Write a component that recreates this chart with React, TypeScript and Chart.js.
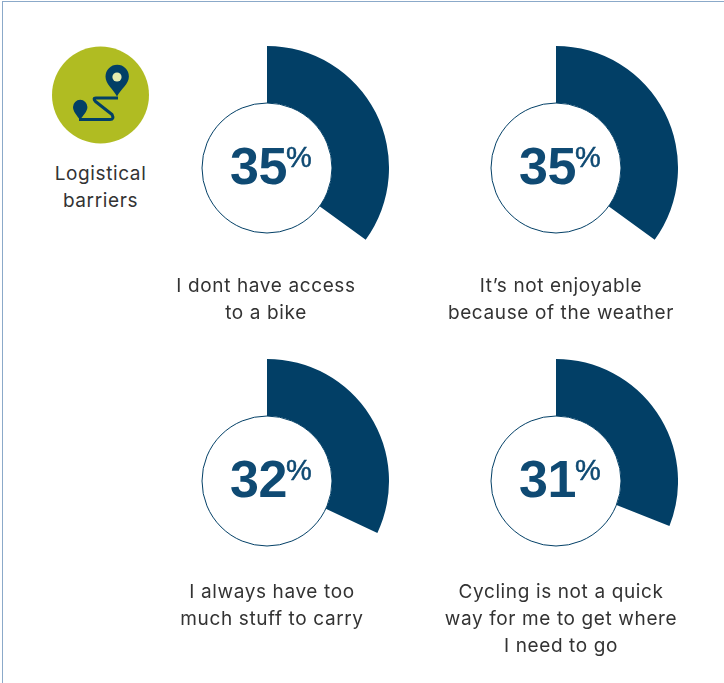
import React, { useEffect, useRef } from "react";
import { Chart, registerables } from "chart.js";

Chart.register(...registerables);

const shares = [35, 35, 32, 31];
const captions = [
  ["I dont have access", "to a bike"],
  ["It\u2019s not enjoyable", "because of the weather"],
  ["I always have too", "much stuff to carry"],
  ["Cycling is not a quick", "way for me to get where", "I need to go"],
];
const centersX = [267, 556, 267, 556];
const centersY = [168, 168, 481, 481];
const captionCentersX = [266, 561, 272, 561];
const captionTops = [272, 272, 578, 578];
const groupTitle = ["Logistical", "barriers"];

const NAVY = "#023f66";
const OUTER = 122;
const INNER = 65;

// White disc with a thin navy outline, sitting in the hole of the ring.
const innerDisc = {
  id: "innerDisc",
  afterDatasetsDraw(chart: any) {
    const arc = chart.getDatasetMeta(0).data[0];
    const { ctx } = chart;
    ctx.save();
    ctx.beginPath();
    ctx.arc(arc.x, arc.y, arc.innerRadius, 0, Math.PI * 2);
    ctx.fillStyle = "#ffffff";
    ctx.fill();
    ctx.lineWidth = 1;
    ctx.strokeStyle = NAVY;
    ctx.stroke();
    ctx.restore();
  },
};

function Ring({ value, cx, cy }: { value: number; cx: number; cy: number }) {
  const ref = useRef<HTMLCanvasElement>(null);
  useEffect(() => {
    const chart = new Chart(ref.current!, {
      type: "doughnut",
      data: {
        datasets: [
          {
            data: [value, 100 - value],
            backgroundColor: [NAVY, "rgba(0,0,0,0)"],
            borderWidth: 0,
          },
        ],
      },
      options: {
        animation: false,
        responsive: false,
        cutout: (INNER / OUTER) * 100 + "%",
        layout: { padding: 0 },
        plugins: { legend: { display: false }, tooltip: { enabled: false } },
      },
      plugins: [innerDisc],
    });
    return () => chart.destroy();
  }, [value]);
  return (
    <canvas
      ref={ref}
      width={OUTER * 2}
      height={OUTER * 2}
      style={{ position: "absolute", left: cx - OUTER, top: cy - OUTER, width: OUTER * 2, height: OUTER * 2 }}
    />
  );
}

const labelFont = "Inter, sans-serif";

function Lines({ lines, cx, top }: { lines: string[]; cx: number; top: number }) {
  return (
    <>
      {lines.map((t, i) => (
        <div
          key={t}
          style={{
            position: "absolute",
            left: cx - 160,
            width: 320,
            top: top + i * 27,
            height: 27,
            lineHeight: "27px",
            textAlign: "center",
            fontFamily: labelFont,
            fontSize: 19,
            letterSpacing: 0.62,
            color: "#333333",
            whiteSpace: "nowrap",
          }}
        >
          {t}
        </div>
      ))}
    </>
  );
}

function Figure({ value, cx, cy }: { value: number; cx: number; cy: number }) {
  return (
    <div
      style={{
        position: "absolute",
        left: cx - 37,
        top: cy - 32,
        fontFamily: "'Liberation Sans', Arial, sans-serif",
        color: "#0f4a73",
        whiteSpace: "nowrap",
        lineHeight: "60px",
        height: 60,
      }}
    >
      <span style={{ fontSize: 52, fontWeight: 700, letterSpacing: -0.5 }}>{value}</span>
      <span style={{ position: "absolute", left: 56, top: -9, fontSize: 29, fontWeight: 400, WebkitTextStroke: "0.5px #0f4a73" }}>%</span>
    </div>
  );
}

function RouteIcon() {
  return (
    <svg width={100} height={100} viewBox="0 0 100 100" style={{ position: "absolute", left: 50, top: 45 }}>
      <circle cx={50.5} cy={50} r={48.5} fill="#b0bc22" />
      <path
        d="M68 53 L46 53 Q42.500 53 45.500 56.500 L62 69.500 Q64.500 74.500 60 74.500 L29 74.500"
        fill="none"
        stroke={NAVY}
        strokeWidth={3}
        strokeLinejoin="round"
      />
      <path
        fill={NAVY}
        d="M67 51.500 C63 44 55.500 39 55.500 31.500 A11.700 11.700 0 0 1 78.900 31.500 C78.900 39 71 44 67 51.500 Z"
      />
      <circle cx={67} cy={32} r={4.6} fill="#e6ecb0" />
      <path
        fill={NAVY}
        d="M30 75 C27 70.500 23 66.500 23 62 A7.200 7.200 0 0 1 37.400 62 C37.400 66.500 33 70.500 30 75 Z"
      />
    </svg>
  );
}

export default function App() {
  return (
    <div style={{ position: "absolute", left: 0, top: 0, width: 724, height: 683, background: "#fff", overflow: "hidden" }}>
      <div style={{ position: "absolute", left: 2, top: 1, width: 722, height: 1, background: "#8ba9c9" }} />
      <div style={{ position: "absolute", left: 2, top: 1, width: 1, height: 682, background: "#8ba9c9" }} />
      <RouteIcon />
      <Lines lines={groupTitle} cx={100.5} top={160} />
      {shares.map((v, i) => (
        <React.Fragment key={i}>
          <Ring value={v} cx={centersX[i]} cy={centersY[i]} />
          <Figure value={v} cx={centersX[i]} cy={centersY[i]} />
          <Lines lines={captions[i]} cx={captionCentersX[i]} top={captionTops[i]} />
        </React.Fragment>
      ))}
    </div>
  );
}
